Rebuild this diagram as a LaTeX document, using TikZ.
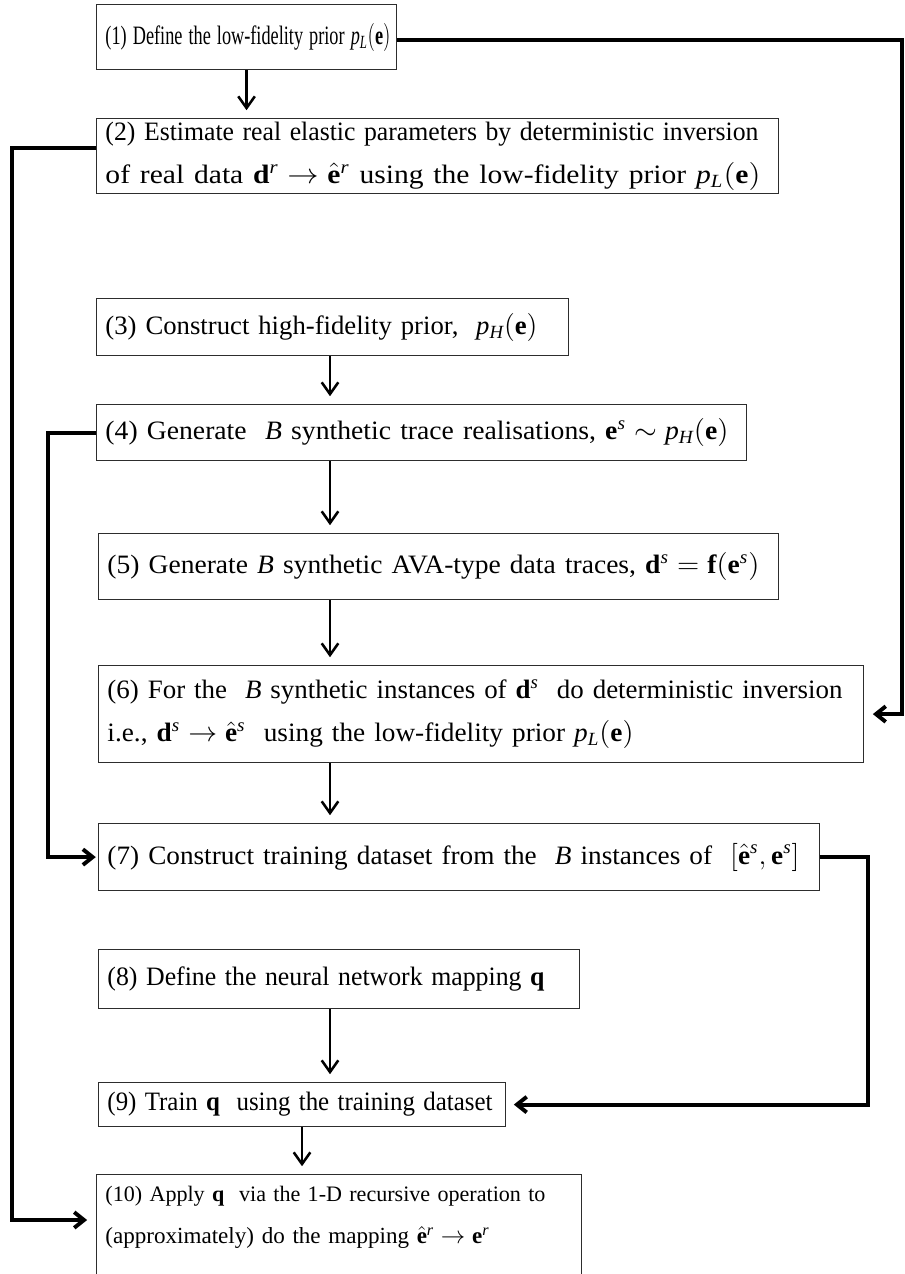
\documentclass[tikz,border=0pt]{standalone}
\usepackage{fontspec}
\setmainfont{Liberation Serif}
\usepackage{graphicx}
\usetikzlibrary{arrows.meta,calc,positioning}
\definecolor{BoxEdge}{RGB}{45,45,45}
\newlength\pxu
\setlength\pxu{0.018cm}
% one line of a box, squeezed to the width it has in the figure
\newcommand{\fitline}[2]{\resizebox{#1\pxu}{\height}{#2}}
\newcommand{\shrinkline}[2]{\resizebox{#1\pxu}{!}{#2}}
\newcommand{\prior}[1]{\mathit{p}_{\mathit{#1}}\bigl(\mathbf{e}\bigr)}
\newcommand{\vecsup}[2]{\mathbf{#1}^{\mathit{#2}}}
\newcommand{\hatsup}[2]{\hat{\mathbf{#1}}^{\mathit{#2}}}

\tikzset{
  stepbox/.style={draw=BoxEdge, line width=0.6pt, anchor=north west,
    inner xsep=0.16cm, inner ysep=0pt, align=left,
    font=\fontsize{13.6}{22}\selectfont},
  flowarrow/.style={-{Straight Barb[length=6pt,width=8.5pt]}, line width=1.3pt,
    shorten >=0.14cm},
  feedback/.style={-{Straight Barb[length=5pt,width=8pt]}, line width=2pt},
}

\begin{document}
\begin{tikzpicture}[x=0.018cm,y=-0.018cm]
  \useasboundingbox (0,0) rectangle (904,1274);
  \clip (0,0) rectangle (904,1274);

  % steps
  \node[stepbox, text width=5.08cm, minimum height=1.17cm] (b1) at (96,4)
    {\fitline{285}{(1) Define the low-fidelity prior $\prior{L}$}};
  \node[stepbox, text width=11.956cm, minimum height=1.35cm] (b2) at (96,118)
    {\fitline{653}{(2) Estimate real elastic parameters by deterministic inversion}\\
     \fitline{655}{of real data $\vecsup{d}{r}\rightarrow\hatsup{e}{r}$\ using the low-fidelity prior $\prior{L}$}};
  \node[stepbox, text width=8.176cm, minimum height=1.026cm] (b3) at (96,298)
    {\fitline{432}{(3) Construct high-fidelity prior,\ \ $\prior{H}$}};
  \node[stepbox, text width=11.38cm, minimum height=1.008cm] (b4) at (96,404)
    {\fitline{623}{(4) Generate\ \ $\mathit{B}$ synthetic trace realisations,\ $\vecsup{e}{s}\sim\prior{H}$}};
  \node[stepbox, text width=11.92cm, minimum height=1.188cm] (b5) at (98,533)
    {\fitline{652}{(5) Generate $\mathit{B}$ synthetic AVA-type data traces,\ $\vecsup{d}{s}=\mathbf{f}\bigl(\vecsup{e}{s}\bigr)$}};
  \node[stepbox, text width=13.45cm, minimum height=1.746cm] (b6) at (98,665)
    {\fitline{735}{(6) For the\ \ $\mathit{B}$ synthetic instances of $\vecsup{d}{s}$\ \ do deterministic inversion}\\
     \fitline{526}{i.e., $\vecsup{d}{s}\rightarrow\hatsup{e}{s}$\ \ using the low-fidelity prior $\prior{L}$}};
  \node[stepbox, text width=12.658cm, minimum height=1.206cm] (b7) at (98,823)
    {\fitline{692}{(7) Construct training dataset from the\ \ $\mathit{B}$ instances of\ \ $\bigl[\hatsup{e}{s},\vecsup{e}{s}\bigr]$}};
  \node[stepbox, text width=8.338cm, minimum height=1.062cm] (b8) at (98,949)
    {\fitline{437}{(8) Define the neural network mapping\ $\mathbf{q}$}};
  \node[stepbox, text width=7.006cm, minimum height=0.792cm] (b9) at (98,1082)
    {\fitline{385}{(9) Train\ $\mathbf{q}$\ \ using the training dataset}};
  \node[stepbox, text width=8.41cm, inner ysep=0.2cm, text depth=1.3cm] (b10) at (96,1174)
    {\shrinkline{440}{(10) Apply\ $\mathbf{q}$\ \ via the 1-D recursive operation to}\\
     \shrinkline{384}{(approximately) do the mapping\ $\hatsup{e}{r}\rightarrow\vecsup{e}{r}$}};

  % rails
  \coordinate (spine) at (330,0);
  \coordinate (farright) at (902,0);
  \coordinate (innerright) at (868,0);
  \coordinate (farleft) at (12,0);
  \coordinate (innerleft) at (48,0);
  \coordinate (out1) at ($(b1.north east)+(0,36)$);
  \coordinate (out2) at ($(b2.north west)+(0,30)$);
  \coordinate (in10) at ($(b10.north west)+(0,46)$);

  % main flow
  \draw[flowarrow] (b1.south) -- (b1.south |- b2.north);
  \draw[flowarrow] (b3.south -| spine) -- (b4.north -| spine);
  \draw[flowarrow] (b4.south -| spine) -- (b5.north -| spine);
  \draw[flowarrow] (b5.south -| spine) -- (b6.north -| spine);
  \draw[flowarrow] (b6.south -| spine) -- (b7.north -| spine);
  \draw[flowarrow] (b8.south -| spine) -- (b9.north -| spine);
  \draw[flowarrow] (b9.south) -- (b9.south |- b10.north);

  % feedback paths
  \draw[feedback, shorten >=0.16cm] (out1) -- (out1 -| farright)
    -- (b6.east -| farright) -- (b6.east);
  \draw[feedback, shorten >=0.16cm] (out2) -- (out2 -| farleft)
    -- (in10 -| farleft) -- (in10);
  \draw[feedback, shorten >=0.04cm] (b4.west) -- (b4.west -| innerleft)
    -- (b7.west -| innerleft) -- (b7.west);
  \draw[feedback, shorten >=0.14cm] (b7.east) -- (b7.east -| innerright)
    -- (b9.east -| innerright) -- (b9.east);
\end{tikzpicture}
\end{document}
